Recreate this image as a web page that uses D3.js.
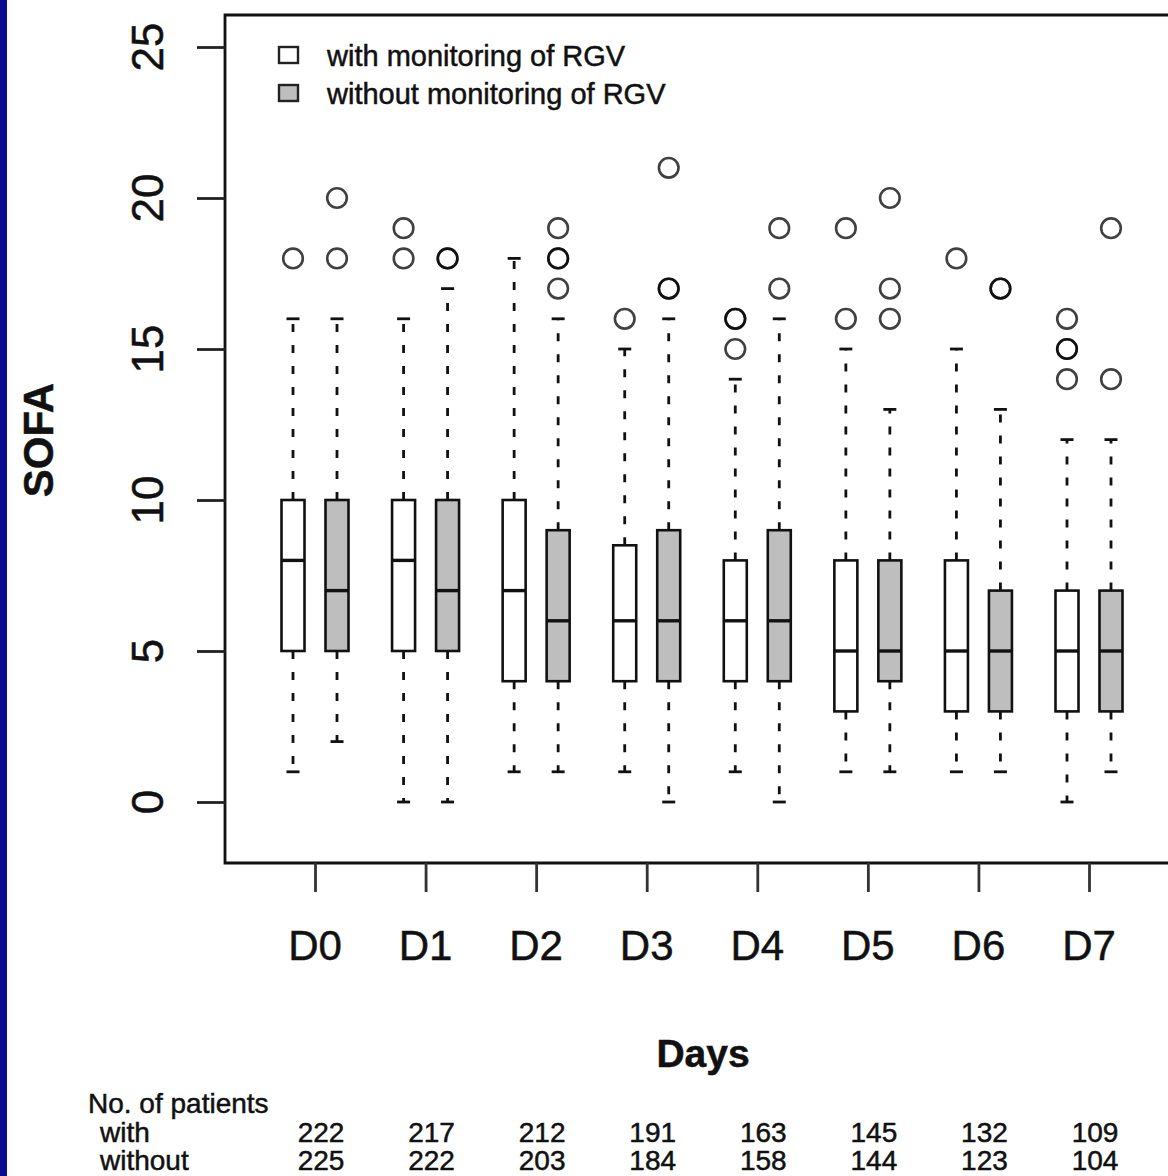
<!DOCTYPE html>
<html>
<head>
<meta charset="utf-8">
<script src="https://cdn.jsdelivr.net/npm/d3@7"></script>
<style>
    html, body { margin: 0; padding: 0; background: #fff; }
    svg { display: block; font-family: "Liberation Sans", Arial, sans-serif; }
    svg text { stroke: #111; stroke-width: 0.5px; }
</style>
</head>
<body>
<script>
var WIDTH = 1168,
    HEIGHT = 1176;

var days = ['D0', 'D1', 'D2', 'D3', 'D4', 'D5', 'D6', 'D7'];
var yTicks = [0, 5, 10, 15, 20, 25];

// with monitoring of RGV
var withLow  = [1, 0, 1, 1, 1, 1, 1, 0];
var withQ1   = [5, 5, 4, 4, 4, 3, 3, 3];
var withMed  = [8, 8, 7, 6, 6, 5, 5, 5];
var withQ3   = [10, 10, 10, 8.5, 8, 8, 8, 7];
var withHigh = [16, 16, 18, 15, 14, 15, 15, 12];
var withOut  = [[18], [18, 19], [], [16], [15, 16, 16], [16, 19], [18], [14, 15, 15, 16]];

// without monitoring of RGV
var withoutLow  = [2, 0, 1, 0, 0, 1, 1, 1];
var withoutQ1   = [5, 5, 4, 4, 4, 4, 3, 3];
var withoutMed  = [7, 7, 6, 6, 6, 5, 5, 5];
var withoutQ3   = [10, 10, 9, 9, 9, 8, 7, 7];
var withoutHigh = [16, 17, 16, 16, 16, 13, 13, 12];
var withoutOut  = [[18, 20], [18, 18], [17, 18, 18, 19], [17, 17, 21], [17, 19], [16, 17, 20], [17, 17], [14, 19]];

var nWith    = [222, 217, 212, 191, 163, 145, 132, 109];
var nWithout = [225, 222, 203, 184, 158, 144, 123, 104];

var legendLabels = ['with monitoring of RGV', 'without monitoring of RGV'];
var groupFill = ['#ffffff', '#bebebe'];

var FRAME = { left: 225, top: 15, right: 1190, bottom: 863 };

document.addEventListener('DOMContentLoaded', function() {
    var svg = d3.select('body').append('svg')
        .attr('width', WIDTH)
        .attr('height', HEIGHT);

    var x = d3.scalePoint().domain(days).range([315, 1089]);
    var y = d3.scaleLinear().domain([0, 25]).range([802, 47]);

    drawBoxes(svg, x, y);
    drawAxes(svg, x, y);
    drawLegend(svg);
    drawTable(svg, x);

    // blue strip on the left edge
    svg.append('rect')
        .attr('x', 0).attr('y', 0)
        .attr('width', 7).attr('height', HEIGHT)
        .attr('fill', '#0b0b90');
});

function makeGroup(low, q1, med, q3, high, out, offset, fill) {
    return days.map(function(d, i) {
        return { day: d, low: low[i], q1: q1[i], med: med[i], q3: q3[i], high: high[i],
                 out: out[i], offset: offset, fill: fill };
    });
}

function drawBoxes(svg, x, y) {
    var groups = makeGroup(withLow, withQ1, withMed, withQ3, withHigh, withOut, -22, groupFill[0])
        .concat(makeGroup(withoutLow, withoutQ1, withoutMed, withoutQ3, withoutHigh, withoutOut, 22, groupFill[1]));

    var boxW = 23,
        capW = 13;

    var g = svg.selectAll('g.box')
        .data(groups)
        .enter()
        .append('g')
        .attr('class', 'box')
        .attr('transform', d => 'translate(' + (x(d.day) + d.offset) + ',0)');

    // whiskers
    g.append('line')
        .attr('y1', d => y(d.q3)).attr('y2', d => y(d.high))
        .attr('stroke', '#111').attr('stroke-width', 2.8)
        .attr('stroke-dasharray', '8,13');
    g.append('line')
        .attr('y1', d => y(d.q1)).attr('y2', d => y(d.low))
        .attr('stroke', '#111').attr('stroke-width', 2.8)
        .attr('stroke-dasharray', '8,13');

    // staples
    g.append('line')
        .attr('x1', -capW / 2).attr('x2', capW / 2)
        .attr('y1', d => y(d.high)).attr('y2', d => y(d.high))
        .attr('stroke', '#111').attr('stroke-width', 2.8);
    g.append('line')
        .attr('x1', -capW / 2).attr('x2', capW / 2)
        .attr('y1', d => y(d.low)).attr('y2', d => y(d.low))
        .attr('stroke', '#111').attr('stroke-width', 2.8);

    // box
    g.append('rect')
        .attr('x', -boxW / 2)
        .attr('width', boxW)
        .attr('y', d => y(d.q3))
        .attr('height', d => y(d.q1) - y(d.q3))
        .attr('fill', d => d.fill)
        .attr('stroke', '#111')
        .attr('stroke-width', 2.6);

    // median
    g.append('line')
        .attr('x1', -boxW / 2).attr('x2', boxW / 2)
        .attr('y1', d => y(d.med)).attr('y2', d => y(d.med))
        .attr('stroke', '#111').attr('stroke-width', 3.4);

    // outliers (repeated values overlap and look darker)
    g.selectAll('circle')
        .data(d => d.out)
        .enter()
        .append('circle')
        .attr('cx', 0)
        .attr('cy', v => y(v))
        .attr('r', 9.8)
        .attr('fill', 'none')
        .attr('stroke', '#000')
        .attr('stroke-opacity', 0.75)
        .attr('stroke-width', 2.6);
}

function drawAxes(svg, x, y) {
    var frame = svg.append('g')
        .attr('stroke', '#111')
        .attr('stroke-width', 2.8)
        .attr('fill', 'none');

    frame.append('path')
        .attr('d', 'M' + FRAME.right + ',' + FRAME.top + 'H' + FRAME.left +
                   'V' + FRAME.bottom + 'H' + FRAME.right);

    // y axis
    var yAxis = svg.append('g')
        .attr('transform', 'translate(' + FRAME.left + ',0)')
        .call(d3.axisLeft(y).tickValues(yTicks).tickSize(28).tickFormat(''));
    yAxis.select('.domain').remove();
    yAxis.selectAll('.tick line').attr('stroke', '#222').attr('stroke-width', 2.8);

    svg.append('g').selectAll('text')
        .data(yTicks)
        .enter()
        .append('text')
        .attr('transform', d => 'translate(163,' + y(d) + ') rotate(-90)')
        .attr('text-anchor', 'middle')
        .attr('font-size', 44)
        .attr('fill', '#111')
        .text(d => d);

    // x axis
    var xAxis = svg.append('g')
        .attr('transform', 'translate(0,' + FRAME.bottom + ')')
        .call(d3.axisBottom(x).tickSize(29).tickFormat(''));
    xAxis.select('.domain').remove();
    xAxis.selectAll('.tick line').attr('stroke', '#333').attr('stroke-width', 2.8);

    svg.append('g').selectAll('text')
        .data(days)
        .enter()
        .append('text')
        .attr('x', d => x(d))
        .attr('y', 960)
        .attr('text-anchor', 'middle')
        .attr('font-size', 42)
        .attr('fill', '#111')
        .text(d => d);

    // axis titles
    svg.append('text')
        .attr('transform', 'translate(53,440) rotate(-90)')
        .attr('text-anchor', 'middle')
        .attr('font-size', 42)
        .attr('font-weight', 'bold')
        .attr('fill', '#111')
        .text('SOFA');

    svg.append('text')
        .attr('x', 703)
        .attr('y', 1067)
        .attr('text-anchor', 'middle')
        .attr('font-size', 39)
        .attr('font-weight', 'bold')
        .attr('fill', '#111')
        .text('Days');
}

function drawLegend(svg) {
    var item = svg.append('g').selectAll('g')
        .data(legendLabels)
        .enter()
        .append('g')
        .attr('transform', (d, i) => 'translate(0,' + (i * 38) + ')');

    item.append('rect')
        .attr('x', 279).attr('y', 47)
        .attr('width', 19).attr('height', 16)
        .attr('fill', (d, i) => groupFill[i])
        .attr('stroke', '#222')
        .attr('stroke-width', 2.4);

    item.append('text')
        .attr('x', 327)
        .attr('y', 66)
        .attr('font-size', 29)
        .attr('fill', '#111')
        .text(d => d);
}

function drawTable(svg, x) {
    var t = svg.append('g')
        .attr('font-size', 28)
        .attr('fill', '#111');

    t.append('text').attr('x', 88).attr('y', 1113).text('No. of patients');
    t.append('text').attr('x', 100).attr('y', 1142).text('with');
    t.append('text').attr('x', 100).attr('y', 1170).text('without');

    t.selectAll('text.nwith')
        .data(nWith)
        .enter()
        .append('text')
        .attr('class', 'nwith')
        .attr('x', (d, i) => x(days[i]) + 6)
        .attr('y', 1142)
        .attr('text-anchor', 'middle')
        .text(d => d);

    t.selectAll('text.nwithout')
        .data(nWithout)
        .enter()
        .append('text')
        .attr('class', 'nwithout')
        .attr('x', (d, i) => x(days[i]) + 6)
        .attr('y', 1170)
        .attr('text-anchor', 'middle')
        .text(d => d);
}
</script>
</body>
</html>
